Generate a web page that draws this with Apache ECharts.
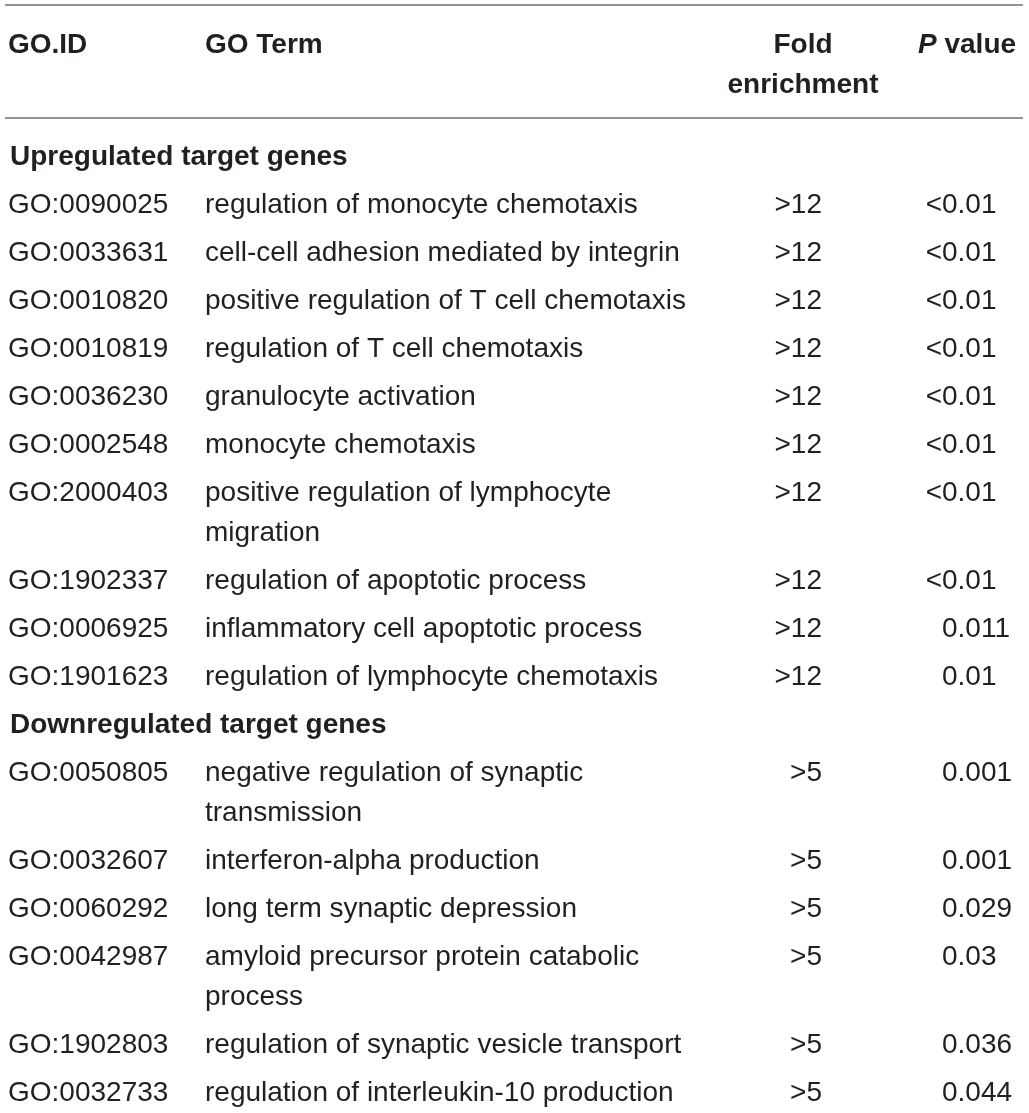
<!DOCTYPE html>
<html>
<head>
<meta charset="utf-8">
<title>GO enrichment of target genes</title>
<script src="https://cdn.jsdelivr.net/npm/echarts@6/dist/echarts.min.js"></script>
<style>
  html, body { margin: 0; padding: 0; background: #fff; }
  #main { width: 1029px; height: 1113px; }
</style>
</head>
<body>
<div id="main"></div>
<script>
// 表头和分组
var headers = ['GO.ID', 'GO Term', 'Fold\nenrichment', '{i|P} value'];
var sectionTitles = ['Upregulated target genes', 'Downregulated target genes'];
var sectionSizes = [10, 6];

// 表格数据
var goIds = [
  'GO:0090025', 'GO:0033631', 'GO:0010820', 'GO:0010819', 'GO:0036230',
  'GO:0002548', 'GO:2000403', 'GO:1902337', 'GO:0006925', 'GO:1901623',
  'GO:0050805', 'GO:0032607', 'GO:0060292', 'GO:0042987', 'GO:1902803',
  'GO:0032733'
];
var goTerms = [
  'regulation of monocyte chemotaxis',
  'cell-cell adhesion mediated by integrin',
  'positive regulation of T cell chemotaxis',
  'regulation of T cell chemotaxis',
  'granulocyte activation',
  'monocyte chemotaxis',
  'positive regulation of lymphocyte\nmigration',
  'regulation of apoptotic process',
  'inflammatory cell apoptotic process',
  'regulation of lymphocyte chemotaxis',
  'negative regulation of synaptic\ntransmission',
  'interferon-alpha production',
  'long term synaptic depression',
  'amyloid precursor protein catabolic\nprocess',
  'regulation of synaptic vesicle transport',
  'regulation of interleukin-10 production'
];
var foldEnrichment = [
  '>12', '>12', '>12', '>12', '>12', '>12', '>12', '>12', '>12', '>12',
  '>5', '>5', '>5', '>5', '>5', '>5'
];
var pValues = [
  '<0.01', '<0.01', '<0.01', '<0.01', '<0.01', '<0.01', '<0.01', '<0.01',
  '0.011', '0.01',
  '0.001', '0.001', '0.029', '0.03', '0.036', '0.044'
];

// 版式 (坐标轴单位即像素)
var W = 1029, H = 1113;
var LINE_H = 40, ROW_H = 48;
var COL = { id: 8, term: 205, foldHead: 803, fold: 822, pHead: 918, p: 942 };
var HEAD_Y = 45, FIRST_Y = 157;
var RULE_X = [5, 1023];
var rules = [5, 118];

var TEXT = '#231f20';
var FONT = '"Liberation Sans", Arial, Helvetica, sans-serif';

var cells = [];
function cell(x, y, text, align, bold) {
  cells.push({ x: x, y: y, text: text, align: align, bold: bold });
}

cell(COL.id, HEAD_Y, headers[0], 'left', true);
cell(COL.term, HEAD_Y, headers[1], 'left', true);
cell(COL.foldHead, HEAD_Y, headers[2], 'center', true);
cell(COL.pHead, HEAD_Y, headers[3], 'left', true);

var y = FIRST_Y, r = 0;
sectionTitles.forEach(function (title, s) {
  cell(COL.id + 2, y, title, 'left', true);
  y += ROW_H;
  for (var k = 0; k < sectionSizes[s]; k++, r++) {
    cell(COL.id, y, goIds[r], 'left', false);
    cell(COL.term, y, goTerms[r], 'left', false);
    cell(COL.fold, y, foldEnrichment[r], 'right', false);
    var p = pValues[r];
    if (p.charAt(0) === '<') {
      cell(COL.p, y, '<', 'right', false);
      p = p.slice(1);
    }
    cell(COL.p, y, p, 'left', false);
    y += ROW_H + (goTerms[r].split('\n').length - 1) * LINE_H;
  }
});

var myChart = echarts.init(document.getElementById('main'), null, { renderer: 'canvas' });

var hiddenAxis = {
  show: false, axisLine: { show: false }, axisTick: { show: false },
  axisLabel: { show: false }, splitLine: { show: false }
};

var option = {
  animation: false,
  backgroundColor: '#fff',
  grid: { left: 0, right: 0, top: 0, bottom: 0 },
  xAxis: Object.assign({ type: 'value', min: 0, max: W }, hiddenAxis),
  yAxis: Object.assign({ type: 'value', min: 0, max: H, inverse: true }, hiddenAxis),
  series: [{
    // 横线
    type: 'custom',
    data: rules.map(function (v) { return [RULE_X[0], v, RULE_X[1]]; }),
    renderItem: function (params, api) {
      var a = api.coord([api.value(0), api.value(1)]);
      var b = api.coord([api.value(2), api.value(1)]);
      return {
        type: 'line',
        shape: { x1: a[0], y1: a[1], x2: b[0], y2: b[1] },
        style: { stroke: '#6d6e71', lineWidth: 1.5 }
      };
    }
  }, {
    // 单元格文字
    type: 'custom',
    data: cells.map(function (c, i) { return [c.x, c.y, i]; }),
    renderItem: function (params, api) {
      var c = cells[api.value(2)];
      var pt = api.coord([api.value(0), api.value(1) - LINE_H / 2]);
      return {
        type: 'text',
        x: pt[0],
        y: pt[1],
        style: {
          text: c.text,
          fill: TEXT,
          fontFamily: FONT,
          fontSize: 28,
          fontWeight: c.bold ? 'bold' : 'normal',
          lineHeight: LINE_H,
          align: c.align,
          verticalAlign: 'top',
          rich: {
            i: { fontStyle: 'italic', fontWeight: 'bold', fontSize: 28, fontFamily: FONT, lineHeight: LINE_H, fill: TEXT }
          }
        }
      };
    }
  }]
};

myChart.setOption(option);
</script>
</body>
</html>
